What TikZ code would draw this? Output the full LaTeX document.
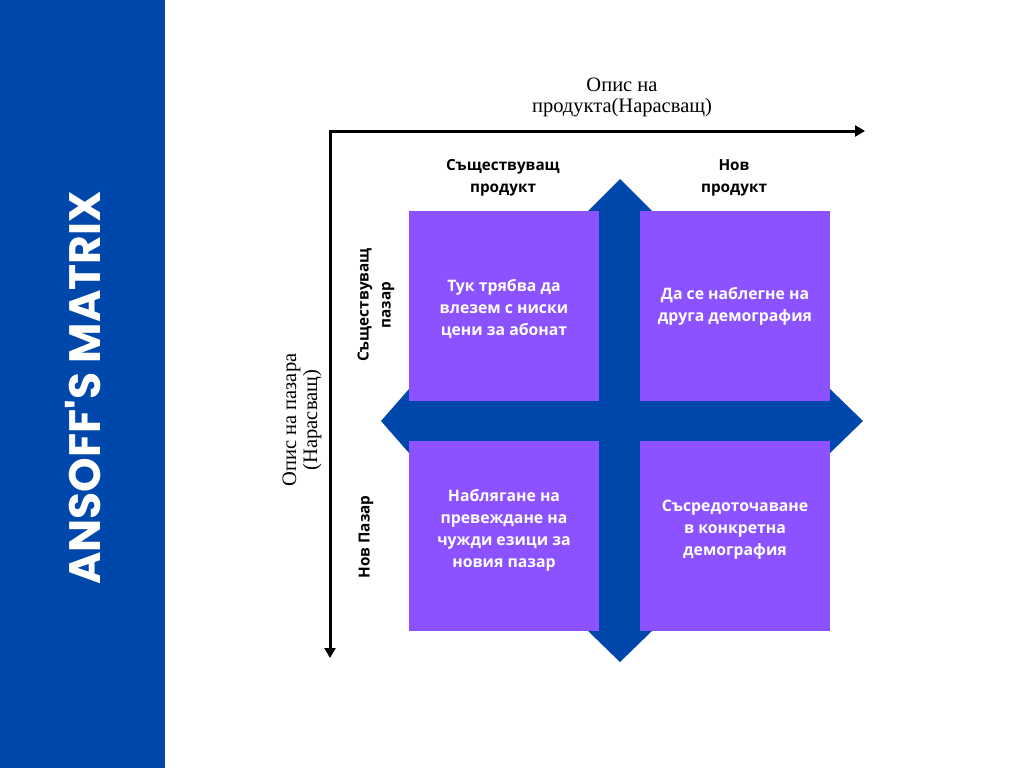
\documentclass[tikz,border=0pt]{standalone}
\usepackage{fontspec}
\setmainfont{Liberation Serif}
\newfontfamily\sansbold{Open Sans}
\newfontfamily\titlefont{Poppins}
\usetikzlibrary{arrows.meta}
\definecolor{bandblue}{HTML}{0047AB}
\definecolor{cellpurple}{HTML}{8C52FF}
\tikzset{cell/.style = {fill = cellpurple, minimum width = 190pt, minimum height = 190pt, inner sep = 0pt}}
\tikzset{celltext/.style = {align = center, text = white, font = \sansbold\bfseries\fontsize{15.8}{22}\selectfont}}
\tikzset{head/.style = {align = center, font = \sansbold\bfseries\fontsize{15.3}{22}\selectfont}}
\tikzset{axis/.style = {line width = 3pt, -{Triangle[length = 10pt, width = 11pt]}}}
\tikzset{axislabel/.style = {align = center, font = \fontsize{20.5}{21}\selectfont}}

\begin{document}
\begin{tikzpicture}[x = 1pt, y = -1pt]
	\useasboundingbox (0, 0) rectangle (1024, 768);
	\fill[bandblue] (0, 0) rectangle (165, 768);
	\node[rotate = 90, text = white, font = \titlefont\bfseries\fontsize{44}{48}\selectfont] (title) at (83, 388) {ANSOFF'S MATRIX};

	% axes
	\coordinate (origin) at (330, 131);
	\coordinate (xend) at (865, 131);
	\coordinate (yend) at (330, 658);
	\draw[axis] ([xshift = -1.5pt] origin) -- (xend);
	\draw[axis] (origin) -- (yend);
	\node[axislabel] (xlabel) at (622, 97) {Опис на\\продукта(Нарасващ)};
	\node[axislabel, rotate = 90] (ylabel) at (302, 420) {Опис на пазара\\(Нарасващ)};

	% cross
	\fill[bandblue] (620, 179) -- (652, 211) -- (641, 211) -- (641, 401) -- (830, 401) -- (830, 389)
		-- (863, 421) -- (830, 453) -- (830, 441) -- (641, 441) -- (641, 631) -- (652, 631)
		-- (620, 662) -- (588, 631) -- (598, 631) -- (598, 441) -- (409, 441) -- (409, 453)
		-- (381, 421) -- (409, 389) -- (409, 401) -- (598, 401) -- (598, 211) -- (588, 211) -- cycle;

	% cells
	\node[cell] (tl) at (504, 306) {};
	\node[cell] (tr) at (735, 306) {};
	\node[cell] (bl) at (504, 536) {};
	\node[cell] (br) at (735, 536) {};
	\node[celltext] (tltext) at ([yshift = -3pt] tl.center) {Тук трябва да\\влезем с ниски\\цени за абонат};
	\node[celltext] (trtext) at (tr.center) {Да се наблегне на\\друга демография};
	\node[celltext] (bltext) at ([yshift = 6pt] bl.center) {Наблягане на\\превеждане на\\чужди езици за\\новия пазар};
	\node[celltext] (brtext) at ([yshift = 6pt] br.center) {Съсредоточаване\\в конкретна\\демография};

	% headers
	\node[head] (col1) at (503, 178) {Съществуващ\\продукт};
	\node[head] (col2) at (734, 178) {Нов\\продукт};
	\node[head, rotate = 90] (row1) at (376, 305) {Съществуващ\\пазар};
	\node[head, rotate = 90] (row2) at (366, 537) {Нов Пазар};
\end{tikzpicture}
\end{document}
